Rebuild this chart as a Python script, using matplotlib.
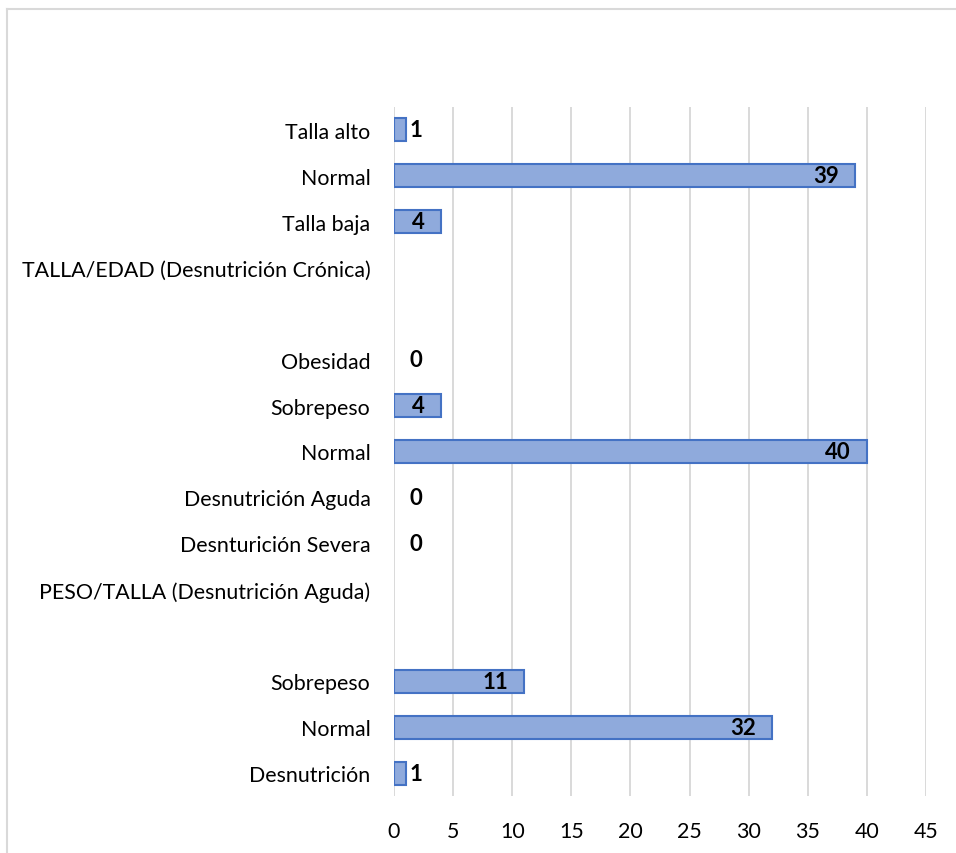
import matplotlib
matplotlib.use("Agg")
import matplotlib.pyplot as plt
from matplotlib.lines import Line2D
from matplotlib import transforms

plt.rcParams['font.family'] = ['Lato', 'DejaVu Sans']

# Categories listed bottom to top
categories = [
    "Desnutrición", "Normal", "Sobrepeso", "",
    "PESO/TALLA (Desnutrición Aguda)", "Desnturición Severa", "Desnutrición Aguda",
    "Normal", "Sobrepeso", "Obesidad", "",
    "TALLA/EDAD (Desnutrición Crónica)", "Talla baja", "Normal", "Talla alto",
]
values = [1, 32, 11, None, None, 0, 0, 40, 4, 0, None, None, 4, 39, 1]
x_ticks = [0, 5, 10, 15, 20, 25, 30, 35, 40, 45]

FILL = "#8FAADC"
EDGE = "#4472C4"
GRID = "#D9D9D9"
FS = 15.4

fig = plt.figure(figsize=(9.56, 8.54), dpi=100)
ax = fig.add_axes([394/956, 1-797/854, (926-394)/956, (797-108)/854])

ypos = list(range(len(categories)))
for y, v in zip(ypos, values):
    if v is None:
        continue
    if v > 0:
        ax.barh(y, v, height=0.5, color=FILL, edgecolor=EDGE, linewidth=1.5, zorder=3)
    if v >= 4:
        dx, ha = -16, 'right'
    elif v > 0:
        dx, ha = 4, 'left'
    else:
        dx, ha = 16, 'left'
    off = transforms.offset_copy(ax.transData, fig=fig, x=dx, y=0, units='dots')
    ax.text(v, y, str(v), transform=off, ha=ha, va='center',
            fontsize=FS + 0.6, fontweight='bold', color='black', zorder=4)

ax.set_xlim(0, 45)
ax.set_ylim(-0.5, len(categories) - 0.5)
ax.set_xticks(x_ticks)
ax.set_xticklabels([str(t) for t in x_ticks], fontsize=FS, color='#000000')
ax.set_yticks(ypos)
ax.set_yticklabels(categories, fontsize=FS, color='#000000')
ax.tick_params(axis='both', length=0)
ax.tick_params(axis='x', pad=18)
ax.tick_params(axis='y', pad=17)
for s in ax.spines.values():
    s.set_visible(False)
ax.grid(axis='x', color=GRID, linewidth=1.4, zorder=0)
ax.set_axisbelow(True)

# outer chart border (cropped)
fig.add_artist(Line2D([7/956, 7/956], [0, 1-10/854], transform=fig.transFigure, color=GRID, linewidth=1.5))
fig.add_artist(Line2D([7/956, 1], [1-10/854, 1-10/854], transform=fig.transFigure, color=GRID, linewidth=1.5))

fig.savefig("out.png", dpi=100)
